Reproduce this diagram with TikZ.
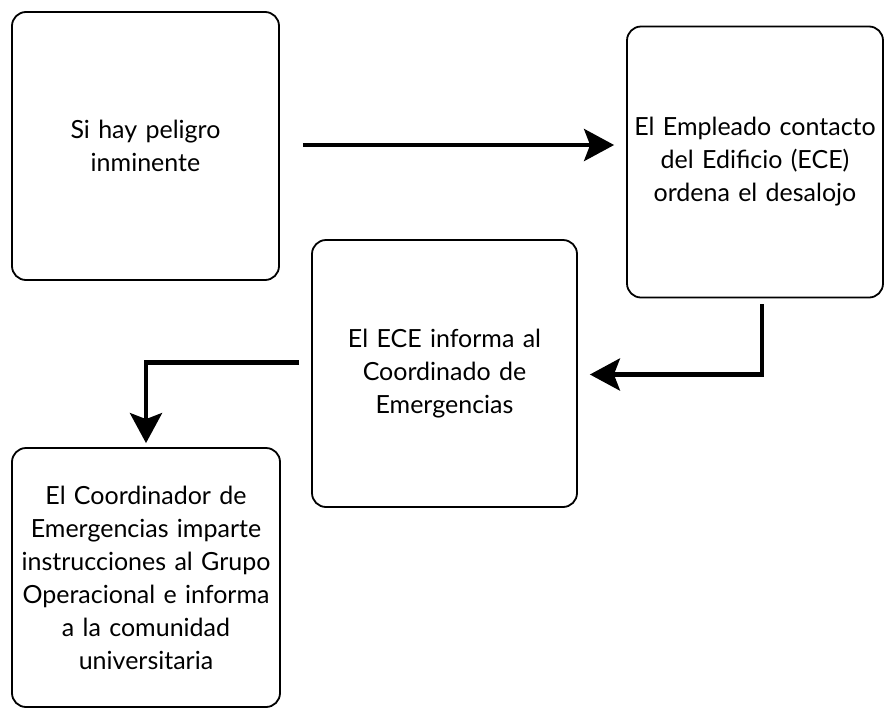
\documentclass[tikz,border=0pt]{standalone}
\usepackage{fontspec}
\setmainfont{Lato}
\usetikzlibrary{arrows.meta}
\begin{document}
\begin{tikzpicture}[x=1pt,y=-1pt,
    caja/.style={draw, line width=1.8pt, rounded corners=14pt, align=center,
      inner sep=0pt, font=\fontsize{25}{33}\selectfont},
    flecha/.style={line width=4.5pt, -{Stealth[length=30pt,width=32pt,inset=6pt]}}]
      \useasboundingbox (0,0) rectangle (885,710);
      \node[caja, minimum width=267pt, minimum height=268pt, text width=262pt] (peligro) at (145.5,146)
        {Si hay peligro\\ inminente};
      \node[caja, minimum width=256pt, minimum height=271pt, text width=254pt] (empleado) at (755,162)
        {El Empleado contacto\\ del Edificio (ECE)\\ ordena el desalojo};
      \node[caja, minimum width=265pt, minimum height=267pt, text width=262pt] (informa) at (444.5,373.5)
        {El ECE informa al\\ Coordinado de\\ Emergencias};
      \node[caja, minimum width=268pt, minimum height=259pt, text width=267pt] (coordinador) at (146,577.5)
        {El Coordinador de\\ Emergencias imparte\\ instrucciones al Grupo\\ Operacional e informa\\ a la comunidad\\ universitaria};
      \draw[flecha] ([xshift=23pt,yshift=1pt]peligro.east) -- ([xshift=-12pt,yshift=17pt]empleado.west);
      \draw[flecha] ([xshift=7pt,yshift=-6pt]empleado.south) |- ([xshift=12pt,yshift=-1pt]informa.east);
      \draw[flecha] ([xshift=-12pt,yshift=11pt]informa.west) -| ([yshift=4pt]coordinador.north);
\end{tikzpicture}
\end{document}
